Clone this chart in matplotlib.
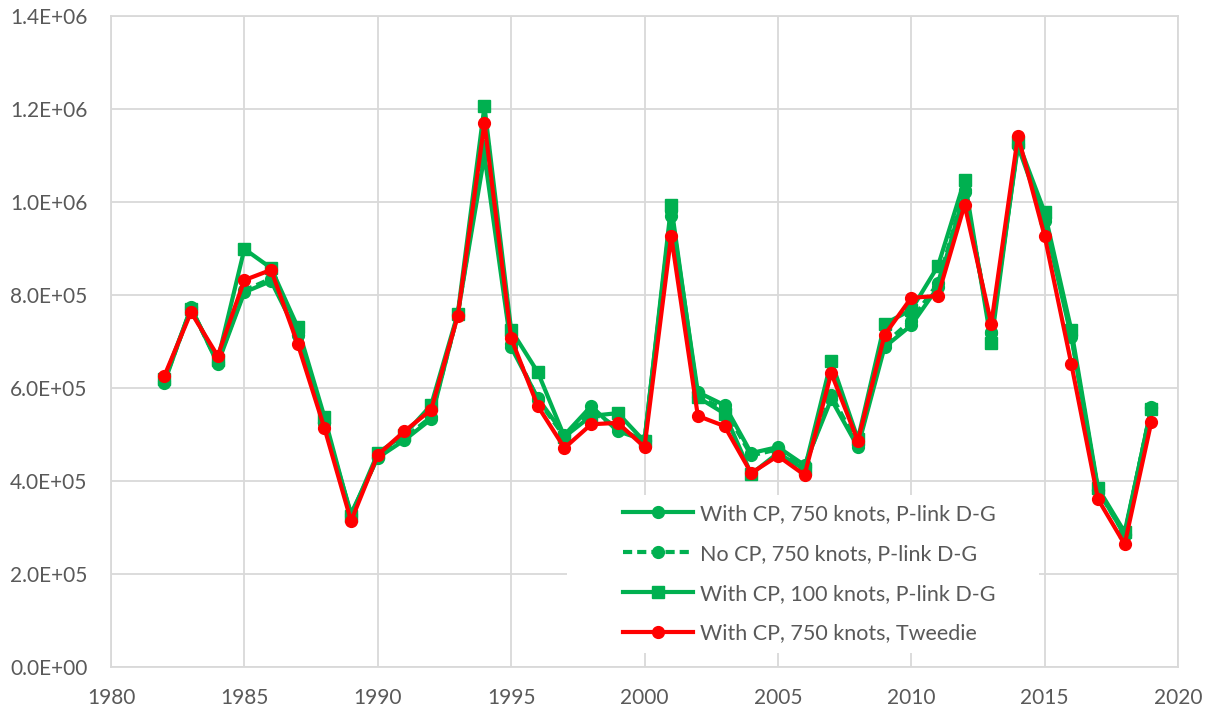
import matplotlib
matplotlib.use("Agg")
import matplotlib.pyplot as plt
from matplotlib.patches import Rectangle
from matplotlib.ticker import FuncFormatter

years = list(range(1982, 2020))

with_cp_750_plink = [611e3, 774e3, 652e3, 806e3, 830e3, 715e3, 525e3, 330e3, 450e3, 488e3,
                     533e3, 760e3, 1100e3, 688e3, 578e3, 499e3, 561e3, 507e3, 488e3, 980e3,
                     591e3, 563e3, 460e3, 473e3, 434e3, 576e3, 473e3, 688e3, 735e3, 817e3,
                     1021e3, 718e3, 1120e3, 960e3, 710e3, 381e3, 284e3, 559e3]

no_cp_750_plink = [615e3, 770e3, 655e3, 810e3, 835e3, 715e3, 525e3, 325e3, 452e3, 492e3,
                   538e3, 758e3, 1120e3, 695e3, 575e3, 495e3, 550e3, 515e3, 485e3, 970e3,
                   580e3, 555e3, 455e3, 468e3, 430e3, 585e3, 478e3, 695e3, 745e3, 825e3,
                   1025e3, 720e3, 1125e3, 965e3, 715e3, 380e3, 285e3, 558e3]

with_cp_100_plink = [620e3, 770e3, 660e3, 899e3, 858e3, 731e3, 538e3, 325e3, 460e3, 500e3,
                     563e3, 760e3, 1206e3, 725e3, 634e3, 495e3, 540e3, 546e3, 485e3, 993e3,
                     580e3, 545e3, 415e3, 460e3, 425e3, 658e3, 490e3, 738e3, 768e3, 862e3,
                     1047e3, 697e3, 1130e3, 978e3, 725e3, 385e3, 290e3, 555e3]

with_cp_750_tweedie = [626e3, 763e3, 669e3, 832e3, 854e3, 695e3, 514e3, 314e3, 456e3, 507e3,
                       553e3, 755e3, 1170e3, 707e3, 561e3, 471e3, 522e3, 525e3, 473e3, 927e3,
                       540e3, 518e3, 417e3, 454e3, 413e3, 632e3, 486e3, 714e3, 794e3, 798e3,
                       994e3, 738e3, 1142e3, 927e3, 652e3, 361e3, 264e3, 527e3]

labels = ["With CP, 750 knots, P-link D-G",
          "No CP, 750 knots, P-link D-G",
          "With CP, 100 knots, P-link D-G",
          "With CP, 750 knots, Tweedie"]

GREEN = "#00B050"
RED = "#FF0000"
GRID = "#D9D9D9"
TXT = "#595959"

plt.rcParams['font.family'] = ['Lato', 'DejaVu Sans']

fig = plt.figure(figsize=(12.13, 7.13), dpi=100)
ax = fig.add_axes([111/1213, 1 - 667/713, (1178 - 111)/1213, (667 - 16)/713])

lw = 3.0
ms = 8.5
ax.plot(years, with_cp_750_plink, color=GREEN, lw=lw, marker='o', ms=ms, label=labels[0], zorder=3)
ax.plot(years, no_cp_750_plink, color=GREEN, lw=lw, ls=(0, (2.2, 1.2)), marker='o', ms=ms, label=labels[1], zorder=4)
ax.plot(years, with_cp_100_plink, color=GREEN, lw=lw, marker='s', ms=ms, label=labels[2], zorder=5)
ax.plot(years, with_cp_750_tweedie, color=RED, lw=lw, marker='o', ms=ms, label=labels[3], zorder=6)

ax.set_xlim(1980, 2020)
ax.set_ylim(0, 1.4e6)
ax.set_xticks(range(1980, 2021, 5))
ax.set_yticks([i * 2e5 for i in range(8)])
ax.yaxis.set_major_formatter(FuncFormatter(lambda v, p: f"{v:.1E}"))
ax.grid(True, color=GRID, lw=1.3, zorder=0)
ax.set_axisbelow(True)
for s in ax.spines.values():
    s.set_color(GRID)
    s.set_linewidth(1.3)
ax.tick_params(axis='both', length=0, labelsize=15, colors=TXT)
ax.tick_params(axis='y', pad=17)
ax.tick_params(axis='x', pad=15)

# white legend area hiding gridlines
rect = Rectangle((567/1213, 1 - 653/713), (1039 - 567)/1213, (653 - 495)/713,
                 transform=fig.transFigure, facecolor='white', edgecolor='none', zorder=1)
ax.add_patch(rect)

leg = ax.legend(loc='upper left', bbox_to_anchor=(623/1213, 1 - 504/713),
                bbox_transform=fig.transFigure, frameon=False, fontsize=15.5,
                borderpad=0, borderaxespad=0, handlelength=3.25, handletextpad=0.33,
                labelspacing=0.92)
for t in leg.get_texts():
    t.set_color(TXT)

fig.savefig("out.png", dpi=100)
